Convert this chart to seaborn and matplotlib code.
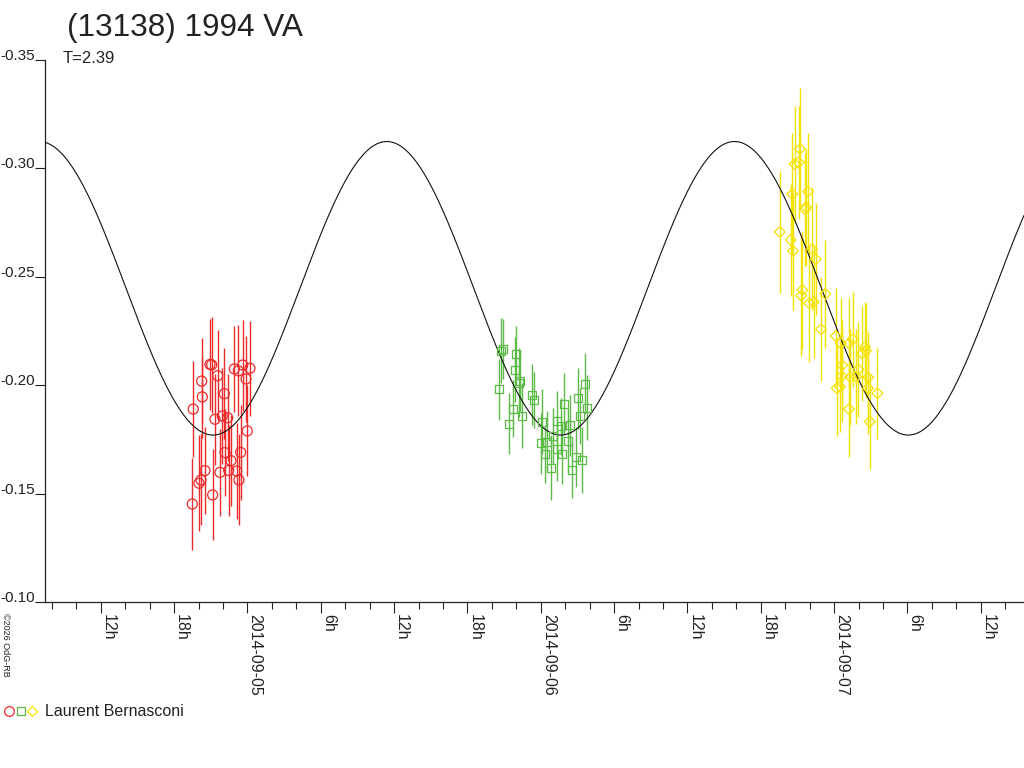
import numpy as np
import pandas as pd
import matplotlib
matplotlib.use("Agg")
import matplotlib.pyplot as plt
import seaborn as sns
from matplotlib.lines import Line2D
from matplotlib.legend_handler import HandlerTuple

# --- data (hours after 2014-09-04 00:00 UT, relative magnitude, error) ---
red_hours = [20.93, 21.07, 20.25, 21.56, 20.30, 22.10, 19.56, 22.92, 23.61, 24.20,
             23.25, 23.88, 21.34, 21.94, 22.38, 23.98, 22.16, 23.44, 22.65, 21.75,
             22.46, 23.12, 23.30, 20.52, 20.19, 20.03, 21.15, 19.48]
red_mag = [-0.2096, -0.2094, -0.2019, -0.2044, -0.1946, -0.1961, -0.1890, -0.2075, -0.2093, -0.2078,
           -0.2066, -0.2029, -0.1843, -0.1858, -0.1850, -0.1789, -0.1689, -0.1690, -0.1652, -0.1598,
           -0.1607, -0.1604, -0.1563, -0.1606, -0.1563, -0.1548, -0.1494, -0.1452]
red_err = [0.021, 0.022, 0.020, 0.021, 0.019, 0.021, 0.022, 0.020, 0.021, 0.022,
           0.021, 0.020, 0.021, 0.022, 0.020, 0.021, 0.020, 0.022, 0.021, 0.020,
           0.021, 0.022, 0.021, 0.020, 0.021, 0.022, 0.021, 0.021]

green_hours = [44.88, 44.75, 44.58, 45.95, 45.87, 46.30, 46.19, 45.70, 45.40, 46.46,
               47.28, 47.45, 48.10, 48.02, 48.32, 48.48, 48.84, 49.30, 48.98, 49.33,
               49.74, 49.63, 49.90, 50.20, 50.39, 50.53, 50.88, 51.37, 51.05, 51.21,
               51.64, 51.78]
green_mag = [-0.2167, -0.2159, -0.1981, -0.2143, -0.2072, -0.2021, -0.2012, -0.1892, -0.1822, -0.1859,
             -0.1956, -0.1933, -0.1832, -0.1732, -0.1681, -0.1739, -0.1619, -0.1835, -0.1767, -0.1707,
             -0.1684, -0.1810, -0.1915, -0.1744, -0.1815, -0.1610, -0.1669, -0.1655, -0.1940, -0.1859,
             -0.2007, -0.1895]
green_err = [0.014, 0.015, 0.014, 0.013, 0.015, 0.014, 0.016, 0.013, 0.014, 0.015,
             0.014, 0.013, 0.015, 0.014, 0.013, 0.014, 0.015, 0.014, 0.013, 0.015,
             0.014, 0.013, 0.014, 0.015, 0.014, 0.013, 0.014, 0.015, 0.014, 0.013,
             0.014, 0.015]

yellow_hours = [69.21, 68.78, 69.11, 68.58, 69.87, 69.62, 69.70, 67.55, 68.45, 68.64,
                70.19, 70.50, 69.40, 69.32, 69.97, 70.33, 71.28, 70.93, 72.13, 72.54,
                73.53, 74.53, 74.29, 72.67, 73.33, 72.63, 73.98, 74.80, 72.22, 72.49,
                73.22, 75.54, 74.92, 74.78, 74.61, 73.22, 73.80]
yellow_mag = [-0.3090, -0.3020, -0.3028, -0.2882, -0.2894, -0.2811, -0.2821, -0.2707, -0.2670, -0.2619,
              -0.2628, -0.2582, -0.2439, -0.2413, -0.2378, -0.2384, -0.2421, -0.2258, -0.2227, -0.2193,
              -0.2212, -0.2176, -0.2147, -0.2093, -0.2038, -0.2042, -0.2073, -0.2036, -0.1986, -0.1993,
              -0.1890, -0.1963, -0.1832, -0.1986, -0.2159, -0.2193, -0.2039]
yellow_err = [0.028, 0.027, 0.026, 0.028, 0.027, 0.026, 0.027, 0.028, 0.026, 0.027,
              0.028, 0.026, 0.027, 0.028, 0.027, 0.026, 0.025, 0.024, 0.022, 0.021,
              0.022, 0.021, 0.022, 0.021, 0.022, 0.021, 0.022, 0.021, 0.022, 0.021,
              0.022, 0.021, 0.022, 0.021, 0.022, 0.021, 0.022]

# fitted lightcurve model
period_h = 28.45
t_max_h = 35.4
mean_mag = -0.2447
amplitude = 0.0677

base = pd.Timestamp("2014-09-04 00:00")
x_start_h, x_end_h = 7.43, 87.54

sessions = [
    ("red", red_hours, red_mag, red_err, "#ee2a2a", "o", 52),
    ("green", green_hours, green_mag, green_err, "#5cbb48", "s", 34),
    ("yellow", yellow_hours, yellow_mag, yellow_err, "#f4e200", "D", 30),
]

sns.set_theme(style="white")
plt.rcParams["font.family"] = ["Liberation Sans", "DejaVu Sans"]
plt.rcParams["axes.unicode_minus"] = False

fig = plt.figure(figsize=(10.24, 7.68), dpi=100)
ax = fig.add_axes([45 / 1024, 166 / 768, 979 / 1024, 542 / 768])

for name, hrs, mag, err, col, mk, sz in sessions:
    df = pd.DataFrame({"time": base + pd.to_timedelta(hrs, unit="h"), "mag": mag, "err": err})
    ax.errorbar(df["time"], df["mag"], yerr=df["err"], fmt="none", ecolor=col,
                elinewidth=1.0, capsize=0, zorder=2)
    sns.scatterplot(data=df, x="time", y="mag", marker=mk, s=sz, color=col, ax=ax,
                    zorder=4, legend=False)
    pts = ax.collections[-1]
    pts.set_facecolor("none")
    pts.set_edgecolor(col)
    pts.set_linewidth(0.9)

model_h = np.linspace(x_start_h, x_end_h, 800)
model_df = pd.DataFrame({
    "time": base + pd.to_timedelta(model_h, unit="h"),
    "mag": mean_mag - amplitude * np.cos(2 * np.pi * (model_h - t_max_h) / period_h),
})
sns.lineplot(data=model_df, x="time", y="mag", color="#111111", linewidth=0.8, ax=ax, zorder=3)

ax.set_xlim(base + pd.Timedelta(hours=x_start_h), base + pd.Timedelta(hours=x_end_h))
ax.set_ylim(-0.10, -0.35)

# ticks
major = pd.date_range("2014-09-04 12:00", "2014-09-07 12:00", freq="6h")
minor = pd.date_range("2014-09-04 08:00", "2014-09-07 14:00", freq="2h")
major_labels = [t.strftime("%Y-%m-%d") if t.hour == 0 else f"{t.hour}h" for t in major]
ax.set_xticks(major)
ax.set_xticks(minor, minor=True)
ax.set_xticklabels(major_labels, rotation=-90, ha="left", va="top", fontsize=11.5, color="#222222")

yticks = [-0.35, -0.30, -0.25, -0.20, -0.15, -0.10]
ax.set_yticks(yticks)
ax.set_yticklabels([f"{v:.2f}" for v in yticks], fontsize=11, color="#222222")
for lbl in ax.get_yticklabels():
    lbl.set_va("baseline")

ax.tick_params(axis="x", which="major", direction="out", length=8, width=0.8, pad=1,
               bottom=True, color="#222222")
ax.tick_params(axis="x", which="minor", direction="out", length=5, width=0.8,
               bottom=True, color="#222222")
ax.tick_params(axis="y", direction="out", length=7.2, width=0.8, pad=0, left=True, color="#222222")
ax.set_xlabel("")
ax.set_ylabel("")
ax.grid(False)

for side in ["top", "right"]:
    ax.spines[side].set_visible(False)
for side in ["left", "bottom"]:
    ax.spines[side].set_color("#222222")
    ax.spines[side].set_linewidth(0.9)

# texts
fig.text(67 / 1024, 1 - 28 / 768, "(13138) 1994 VA", fontsize=22.7, va="center", ha="left", color="#222222")
fig.text(63 / 1024, 1 - 63 / 768, "T=2.39", fontsize=12, va="baseline", ha="left", color="#222222")
fig.text(1 / 1024, 1 - 613 / 768, "\u00a92026 OdG-RB", fontsize=6.5, rotation=-90,
         ha="left", va="top", color="#222222")

handles = tuple(
    Line2D([], [], linestyle="none", marker=mk, markersize=ms, markerfacecolor="none",
           markeredgecolor=col, markeredgewidth=0.9)
    for (_, _, _, _, col, mk, _), ms in zip(sessions, [7, 5.2, 4.8])
)
fig.legend(handles=[handles], labels=["Laurent Bernasconi"],
           handler_map={tuple: HandlerTuple(ndivide=None, pad=0)},
           loc="center left", bbox_to_anchor=(3 / 1024, 1 - 712 / 768),
           frameon=False, borderpad=0, borderaxespad=0, handlelength=2.2,
           handletextpad=0.45, fontsize=11.5, labelcolor="#222222")

fig.savefig("out.png", dpi=100, facecolor="white")
